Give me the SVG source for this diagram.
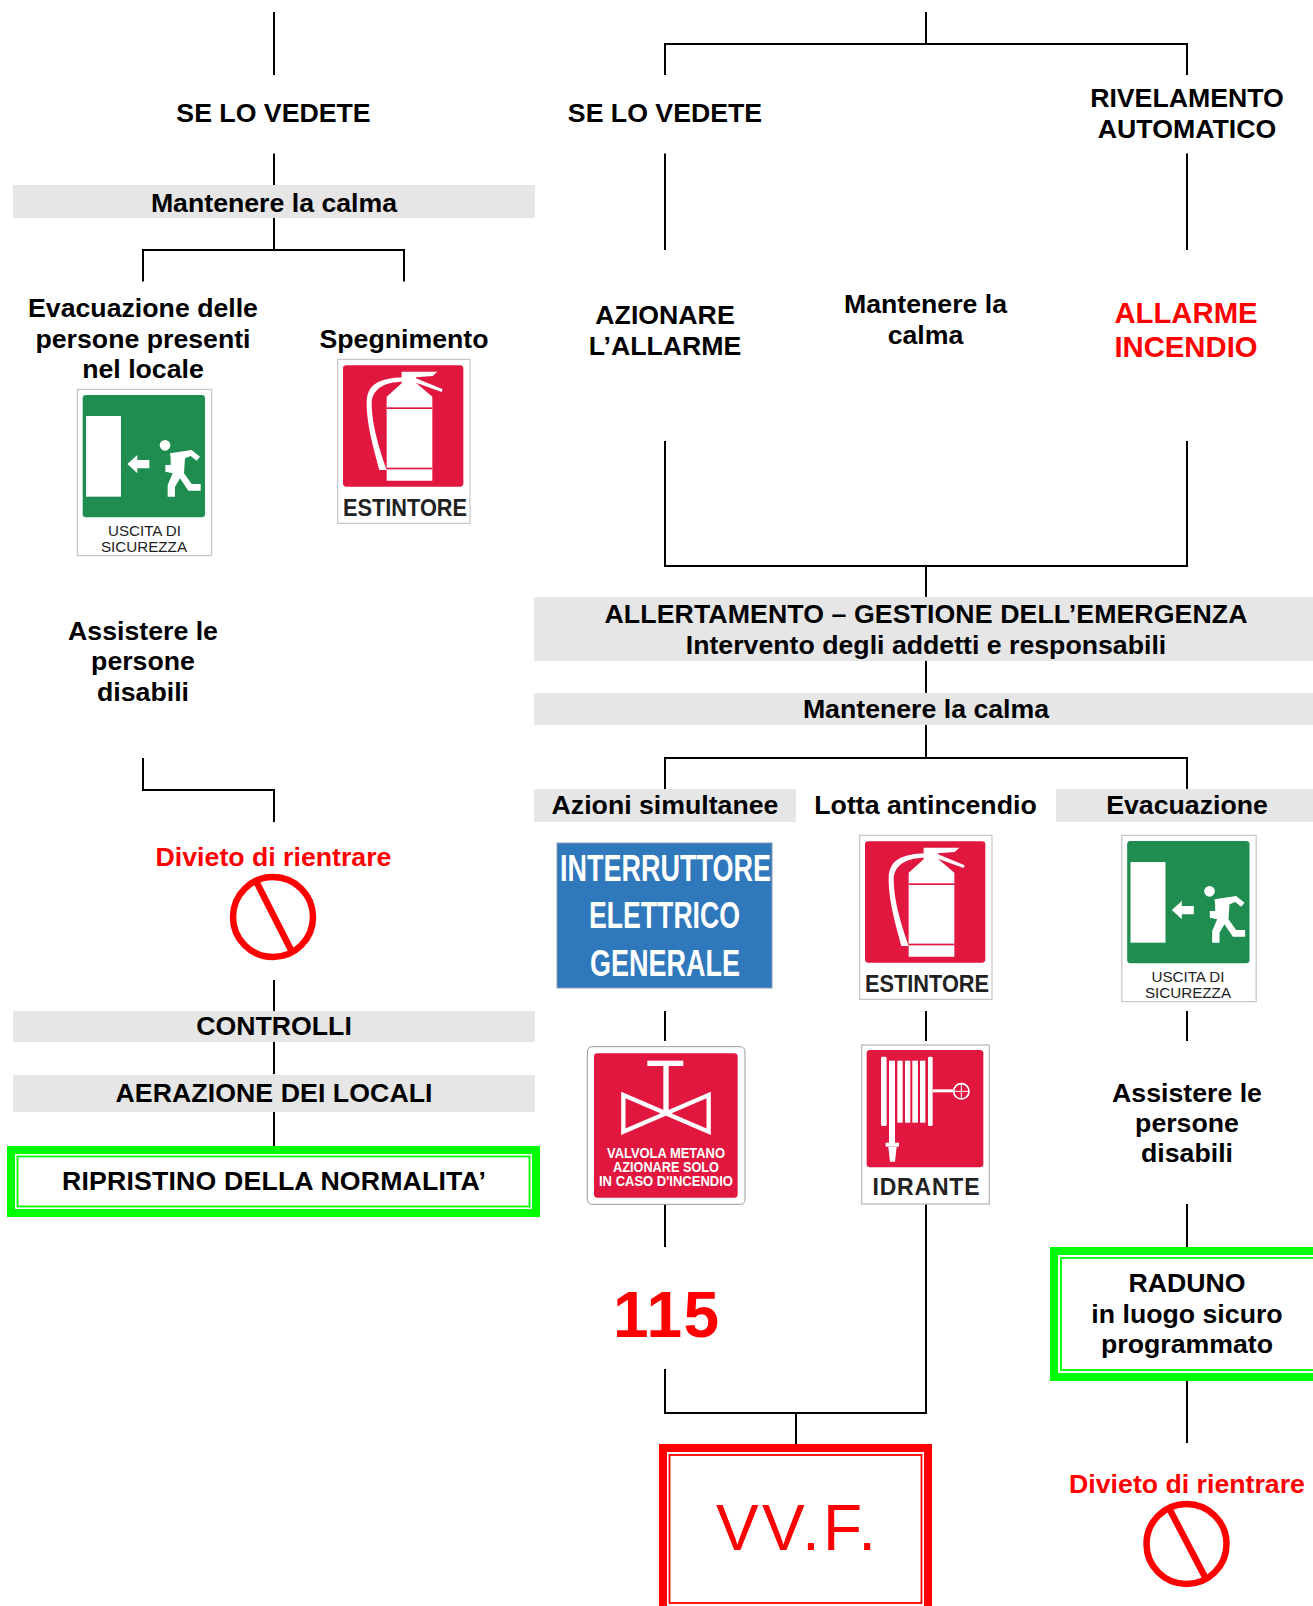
<svg xmlns="http://www.w3.org/2000/svg" xmlns:xlink="http://www.w3.org/1999/xlink" width="1313" height="1606" viewBox="0 0 1313 1606">
<style>
text{font-family:"Liberation Sans",Arial,sans-serif;font-weight:bold;font-size:26.700px;fill:#000;text-anchor:middle;transform:translateY(-.5px)}
.r{fill:#f00}
.band{fill:#e6e6e6}
.ln{fill:none;stroke:#000;stroke-width:2}
.lab{fill:#222;font-weight:normal;-webkit-text-stroke:0.4px #222}
.labb{fill:#222}
.w{fill:#fff}
.no{fill:none;stroke:#f00;stroke-width:6.5}
</style>
<defs>
<g id="exit-icon" transform="translate(60 340) scale(.33333)">
<rect x="52" y="148" width="403" height="499" fill="#fff" stroke="#c4c4c4" stroke-width="3.5"/>
<rect x="68" y="165" width="367" height="367" rx="10" fill="#1f8d50"/>
<rect x="78" y="228" width="105" height="242" fill="#fff"/>
<path d="M202 372L232 345V360H268V385H232V400Z" fill="#fff"/>
<circle cx="315" cy="316" r="16" fill="#fff"/>
<path d="M330 340L395 330L420 350L410 362L392 348L375 355L372 400L395 432H422V452H385L360 415L345 440V470H323V435L338 400L316 395V375H332V355Z" fill="#fff"/>
</g>
<g id="ext-icon" transform="translate(60 340) scale(.33333)">
<rect x="833" y="58" width="397" height="492" fill="#fff" stroke="#c4c4c4" stroke-width="3.5"/>
<rect x="849" y="76" width="361" height="364" rx="10" fill="#e2173f"/>
<path d="M980 422V170L1025 130V95H1132L1118 108L1068 112V115L1148 148L1145 156L1068 128L1117 170V422Z" fill="#fff"/>
<path d="M1030 112C960 115 920 130 920 190C920 260 945 340 958 390H980C955 320 935 250 935 190C935 150 970 125 1030 125Z" fill="#fff"/>
<rect x="980" y="202" width="137" height="5" fill="#e2173f"/>
<rect x="980" y="383" width="137" height="5" fill="#e2173f"/>
</g>
</defs>

<g id="connectors">
<path class="ln" d="M274 12V75M274 153.500V185M274 217V250M143 281.500V250H404V281.500"/>
<path class="ln" d="M143 758V790H274V822M274 980V1011M274 1042V1074M274 1112V1146"/>
<path class="ln" d="M926 12V44M665 75V44H1187V75M665 153.500V250M1187 153.500V250"/>
<path class="ln" d="M665 441V566H1187V441M926 566V597M926 661V693M926 725V758M665 789V758H1187V789"/>
<path class="ln" d="M665 1011V1041M926 1011V1041M1187 1011V1041M665 1204V1247M1187 1204V1247"/>
<path class="ln" d="M665 1369V1413H926V1204M796 1413V1444M1187 1381V1443"/>
</g>

<g id="left-se-lo-vedete"><text x="273.500" y="122">SE LO VEDETE</text></g>
<g id="left-calma"><rect class="band" x="13" y="185" width="522" height="33"/><text x="274" y="212">Mantenere la calma</text></g>
<g id="left-evacuazione"><text x="143" y="317">Evacuazione delle</text><text x="143" y="348">persone presenti</text><text x="143" y="378">nel locale</text></g>
<g id="left-exit-sign"><use xlink:href="#exit-icon" href="#exit-icon"/><text class="lab" style="font-size:14.500px" x="144.500" y="536" textLength="73" lengthAdjust="spacingAndGlyphs">USCITA DI</text><text class="lab" style="font-size:14.500px" x="144" y="552" textLength="86" lengthAdjust="spacingAndGlyphs">SICUREZZA</text></g>
<g id="left-spegnimento"><text x="404" y="348">Spegnimento</text></g>
<g id="left-ext-sign"><use xlink:href="#ext-icon" href="#ext-icon"/><text class="labb" style="font-size:24px" x="405" y="516" textLength="124" lengthAdjust="spacingAndGlyphs">ESTINTORE</text></g>
<g id="left-assistere"><text x="143" y="640">Assistere le</text><text x="143" y="670.500">persone</text><text x="143" y="701">disabili</text></g>
<g id="left-divieto"><text class="r" x="273.500" y="866">Divieto di rientrare</text><circle class="no" cx="273" cy="917" r="40"/><path class="no" d="M257 883L291 950"/></g>
<g id="left-controlli"><rect class="band" x="13" y="1011" width="522" height="31"/><text x="274" y="1035">CONTROLLI</text></g>
<g id="left-aerazione"><rect class="band" x="13" y="1075" width="522" height="37"/><text x="274" y="1102" textLength="317">AERAZIONE DEI LOCALI</text></g>
<g id="left-ripristino"><rect x="11" y="1150" width="525" height="63" fill="#fff" stroke="#0f0" stroke-width="8"/><rect x="17.500" y="1156.500" width="512" height="50" fill="none" stroke="#0f0" stroke-width="1.800"/><text x="274" y="1190" textLength="424">RIPRISTINO DELLA NORMALITA’</text></g>

<g id="right-se-lo-vedete"><text x="665" y="122">SE LO VEDETE</text></g>
<g id="right-rivelamento"><text x="1187" y="107">RIVELAMENTO</text><text x="1187" y="138">AUTOMATICO</text></g>
<g id="right-azionare"><text x="665" y="324">AZIONARE</text><text x="665" y="355">L’ALLARME</text></g>
<g id="right-calma-top"><text x="925.500" y="313">Mantenere la</text><text x="925.500" y="344">calma</text></g>
<g id="right-allarme"><text class="r" style="font-size:29.300px" x="1186" y="323">ALLARME</text><text class="r" style="font-size:29.300px" x="1186" y="357">INCENDIO</text></g>
<g id="right-allertamento"><rect class="band" x="534" y="597" width="779" height="64"/><text x="926" y="623" textLength="643">ALLERTAMENTO – GESTIONE DELL’EMERGENZA</text><text x="926" y="654">Intervento degli addetti e responsabili</text></g>
<g id="right-calma"><rect class="band" x="534" y="693" width="779" height="32"/><text x="926" y="718">Mantenere la calma</text></g>
<g id="azioni"><rect class="band" x="534" y="789" width="262" height="33"/><text x="665" y="814">Azioni simultanee</text></g>
<g id="lotta"><text x="925.500" y="814">Lotta antincendio</text></g>
<g id="evacuazione"><rect class="band" x="1056" y="789" width="257" height="33"/><text x="1187" y="814">Evacuazione</text></g>
<g id="sign-interruttore"><rect x="557" y="843" width="215" height="145" fill="#2f78bc" stroke="#8a9bb0" stroke-width="1"/>
<text class="w" style="font-size:37px" x="665.500" y="881" textLength="211" lengthAdjust="spacingAndGlyphs">INTERRUTTORE</text>
<text class="w" style="font-size:37px" x="664.500" y="928" textLength="151" lengthAdjust="spacingAndGlyphs">ELETTRICO</text>
<text class="w" style="font-size:37px" x="665" y="976" textLength="150" lengthAdjust="spacingAndGlyphs">GENERALE</text></g>
<g id="right-ext-sign"><use xlink:href="#ext-icon" href="#ext-icon" transform="translate(522 476)"/><text class="labb" style="font-size:24px" x="927" y="992" textLength="124" lengthAdjust="spacingAndGlyphs">ESTINTORE</text></g>
<g id="right-exit-sign"><use xlink:href="#exit-icon" href="#exit-icon" transform="translate(1044.500 446)"/><text class="lab" style="font-size:14.500px" x="1188" y="982" textLength="73" lengthAdjust="spacingAndGlyphs">USCITA DI</text><text class="lab" style="font-size:14.500px" x="1188" y="998" textLength="86" lengthAdjust="spacingAndGlyphs">SICUREZZA</text></g>
<g id="sign-valvola"><g transform="translate(570 1030) scale(.33333)">
<rect x="52" y="50" width="473" height="473" rx="14" fill="#fff" stroke="#999" stroke-width="3"/>
<rect x="72" y="70" width="431" height="433" rx="10" fill="#e2173f"/>
<rect x="232" y="92" width="108" height="16" fill="#fff"/><rect x="280" y="108" width="16" height="135" fill="#fff"/>
<path d="M160 195L416 305V195L160 305Z" fill="none" stroke="#fff" stroke-width="13"/></g>
<text class="w" style="font-size:14px" x="666" y="1158" textLength="118" lengthAdjust="spacingAndGlyphs">VALVOLA METANO</text>
<text class="w" style="font-size:14px" x="666" y="1172" textLength="106" lengthAdjust="spacingAndGlyphs">AZIONARE SOLO</text>
<text class="w" style="font-size:14px" x="666" y="1186" textLength="134" lengthAdjust="spacingAndGlyphs">IN CASO D'INCENDIO</text></g>
<g id="sign-idrante"><g transform="translate(570 1030) scale(.33333)">
<rect x="875" y="45" width="383" height="477" fill="#fff" stroke="#bbb" stroke-width="4"/>
<rect x="890" y="60" width="350" height="352" rx="10" fill="#e2173f"/>
<g fill="#fff"><rect x="933" y="80" width="17" height="208" rx="4"/><rect x="957" y="92" width="18" height="248"/><rect x="982" y="92" width="16" height="186"/><rect x="1005" y="92" width="16" height="186"/><rect x="1027" y="92" width="17" height="186"/><rect x="1050" y="92" width="16" height="186"/><rect x="1074" y="80" width="14" height="208" rx="4"/><rect x="1088" y="178" width="62" height="9"/><rect x="947" y="338" width="40" height="12"/><path d="M955 350H980L975 395H960Z"/></g>
<circle cx="1174" cy="184" r="23" fill="none" stroke="#fff" stroke-width="5"/><path d="M1151 184H1197M1174 161V207" stroke="#fff" stroke-width="3"/></g>
<text class="labb" style="font-size:23px" x="926" y="1195" textLength="107">IDRANTE</text></g>
<g id="right-assistere"><text x="1187" y="1102">Assistere le</text><text x="1187" y="1132">persone</text><text x="1187" y="1162">disabili</text></g>
<g id="n-115"><text class="r" style="font-size:64px" x="666" y="1337" textLength="106">115</text></g>
<g id="raduno"><rect x="1054" y="1251" width="270" height="126" fill="#fff" stroke="#0f0" stroke-width="8"/><rect x="1061" y="1258" width="262" height="112" fill="none" stroke="#0f0" stroke-width="1.800"/><text x="1187" y="1292">RADUNO</text><text x="1187" y="1323">in luogo sicuro</text><text x="1187" y="1353">programmato</text></g>
<g id="vvf"><rect x="663" y="1448" width="265" height="170" fill="#fff" stroke="#f00" stroke-width="8"/><rect x="669.500" y="1455" width="252" height="148" fill="none" stroke="#f00" stroke-width="1.800"/><text class="r" style="font-size:64px;font-weight:normal" x="796" y="1550" textLength="160">VV.F.</text></g>
<g id="right-divieto"><text class="r" x="1187" y="1493">Divieto di rientrare</text><circle class="no" cx="1186.500" cy="1544" r="40"/><path class="no" d="M1170 1510L1205 1577"/></g>
</svg>
